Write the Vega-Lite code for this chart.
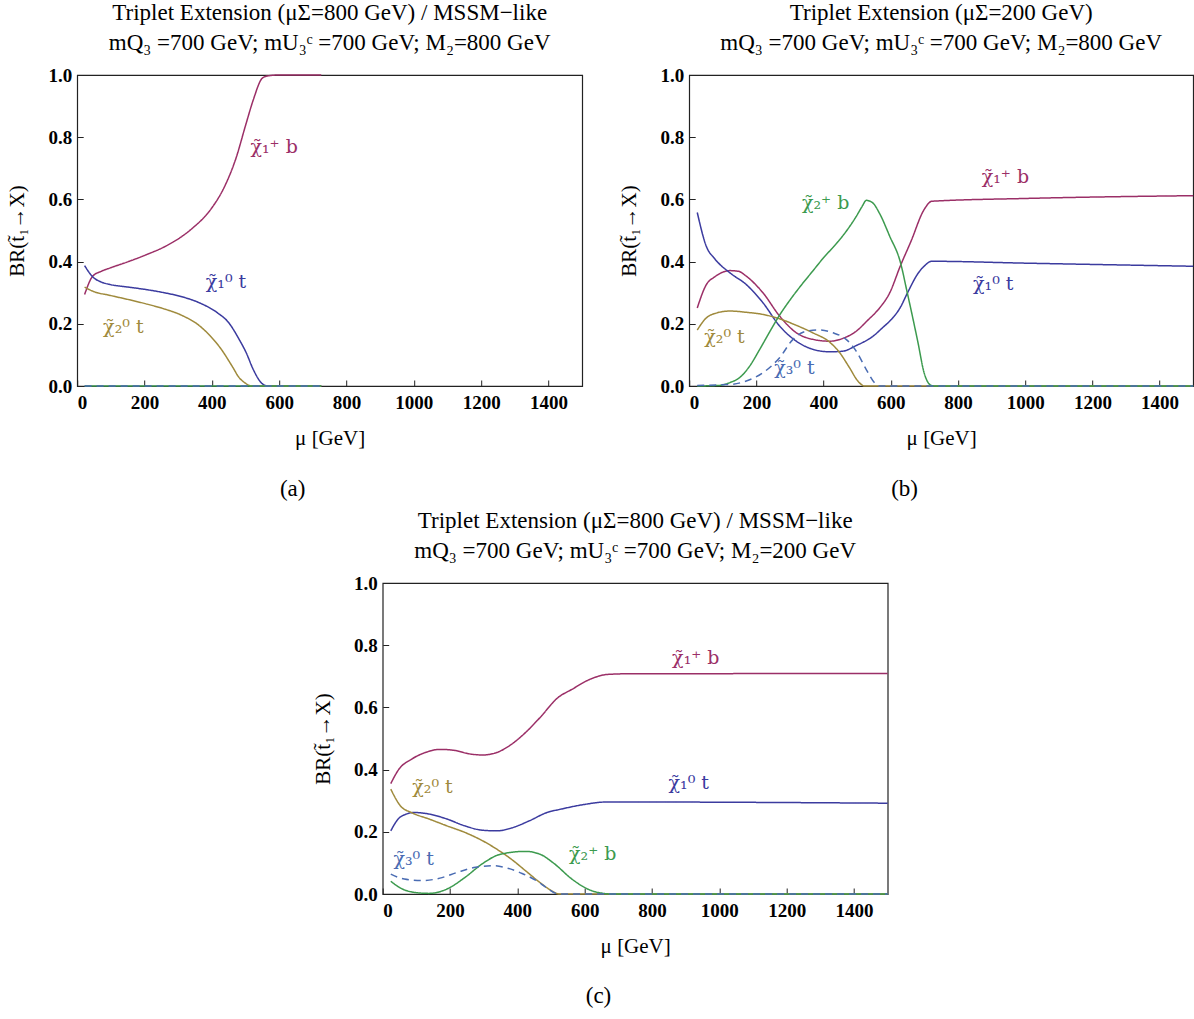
{
  "$schema": "https://vega.github.io/schema/vega-lite/v6.json",
  "background": "white",
  "padding": {"left": 6, "top": 0, "right": 0, "bottom": 5},
  "center": true,
  "spacing": 6,
  "config": {
    "view": {"stroke": "#222", "strokeWidth": 1.2},
    "axis": {"domain": false, "grid": false, "tickColor": "#222", "tickSize": -6, "tickWidth": 1,
      "labelFont": "Liberation Serif", "labelFontSize": 19, "labelFontWeight": "bold", "labelColor": "black",
      "titleFont": "Liberation Serif", "titleFontSize": 21, "titleFontWeight": "normal", "titleColor": "black"},
    "axisX": {"labelPadding": 13, "titlePadding": 15},
    "axisY": {"labelPadding": 11.5, "titlePadding": 20},
    "title": {"font": "Liberation Serif", "fontSize": 23, "fontWeight": "normal", "anchor": "middle", "lineHeight": 30, "offset": 11.5, "color": "black"},
    "text": {"font": "DejaVu Serif"}
  },
  "datasets": {
    "curves": [
      {"panel": "a", "series": "C1b", "mu": 22, "br": 0.294}, {"panel": "a", "series": "C1b", "mu": 46, "br": 0.353}, {"panel": "a", "series": "C1b", "mu": 72, "br": 0.369}, {"panel": "a", "series": "C1b", "mu": 99, "br": 0.38}, {"panel": "a", "series": "C1b", "mu": 152, "br": 0.4}, {"panel": "a", "series": "C1b", "mu": 205, "br": 0.422}, {"panel": "a", "series": "C1b", "mu": 258, "br": 0.447}, {"panel": "a", "series": "C1b", "mu": 311, "br": 0.481}, {"panel": "a", "series": "C1b", "mu": 343, "br": 0.508}, {"panel": "a", "series": "C1b", "mu": 396, "br": 0.567}, {"panel": "a", "series": "C1b", "mu": 438, "br": 0.642}, {"panel": "a", "series": "C1b", "mu": 470, "br": 0.727}, {"panel": "a", "series": "C1b", "mu": 502, "br": 0.845}, {"panel": "a", "series": "C1b", "mu": 523, "br": 0.92}, {"panel": "a", "series": "C1b", "mu": 550, "br": 0.99}, {"panel": "a", "series": "C1b", "mu": 566, "br": 0.997}, {"panel": "a", "series": "C1b", "mu": 600, "br": 1.0}, {"panel": "a", "series": "C1b", "mu": 725, "br": 1.0},
      {"panel": "a", "series": "N1t", "mu": 22, "br": 0.387}, {"panel": "a", "series": "N1t", "mu": 46, "br": 0.351}, {"panel": "a", "series": "N1t", "mu": 72, "br": 0.334}, {"panel": "a", "series": "N1t", "mu": 99, "br": 0.326}, {"panel": "a", "series": "N1t", "mu": 152, "br": 0.318}, {"panel": "a", "series": "N1t", "mu": 205, "br": 0.31}, {"panel": "a", "series": "N1t", "mu": 258, "br": 0.3}, {"panel": "a", "series": "N1t", "mu": 311, "br": 0.287}, {"panel": "a", "series": "N1t", "mu": 364, "br": 0.267}, {"panel": "a", "series": "N1t", "mu": 417, "br": 0.235}, {"panel": "a", "series": "N1t", "mu": 449, "br": 0.205}, {"panel": "a", "series": "N1t", "mu": 481, "br": 0.15}, {"panel": "a", "series": "N1t", "mu": 502, "br": 0.107}, {"panel": "a", "series": "N1t", "mu": 523, "br": 0.053}, {"panel": "a", "series": "N1t", "mu": 548, "br": 0.009}, {"panel": "a", "series": "N1t", "mu": 566, "br": 0}, {"panel": "a", "series": "N1t", "mu": 725, "br": 0},
      {"panel": "a", "series": "N2t", "mu": 22, "br": 0.318}, {"panel": "a", "series": "N2t", "mu": 46, "br": 0.305}, {"panel": "a", "series": "N2t", "mu": 99, "br": 0.291}, {"panel": "a", "series": "N2t", "mu": 152, "br": 0.278}, {"panel": "a", "series": "N2t", "mu": 205, "br": 0.264}, {"panel": "a", "series": "N2t", "mu": 258, "br": 0.248}, {"panel": "a", "series": "N2t", "mu": 311, "br": 0.227}, {"panel": "a", "series": "N2t", "mu": 364, "br": 0.193}, {"panel": "a", "series": "N2t", "mu": 396, "br": 0.16}, {"panel": "a", "series": "N2t", "mu": 428, "br": 0.118}, {"panel": "a", "series": "N2t", "mu": 460, "br": 0.064}, {"panel": "a", "series": "N2t", "mu": 481, "br": 0.027}, {"panel": "a", "series": "N2t", "mu": 497, "br": 0.011}, {"panel": "a", "series": "N2t", "mu": 518, "br": 0}, {"panel": "a", "series": "N2t", "mu": 725, "br": 0},
      {"panel": "a", "series": "C2b", "mu": 22, "br": 0}, {"panel": "a", "series": "C2b", "mu": 725, "br": 0},
      {"panel": "a", "series": "N3t", "mu": 22, "br": 0}, {"panel": "a", "series": "N3t", "mu": 725, "br": 0},

      {"panel": "b", "series": "C1b", "mu": 24, "br": 0.251}, {"panel": "b", "series": "C1b", "mu": 51, "br": 0.326}, {"panel": "b", "series": "C1b", "mu": 76, "br": 0.351}, {"panel": "b", "series": "C1b", "mu": 121, "br": 0.371}, {"panel": "b", "series": "C1b", "mu": 146, "br": 0.369}, {"panel": "b", "series": "C1b", "mu": 170, "br": 0.353}, {"panel": "b", "series": "C1b", "mu": 220, "br": 0.299}, {"panel": "b", "series": "C1b", "mu": 269, "br": 0.225}, {"panel": "b", "series": "C1b", "mu": 319, "br": 0.171}, {"panel": "b", "series": "C1b", "mu": 368, "br": 0.15}, {"panel": "b", "series": "C1b", "mu": 418, "br": 0.144}, {"panel": "b", "series": "C1b", "mu": 457, "br": 0.153}, {"panel": "b", "series": "C1b", "mu": 497, "br": 0.176}, {"panel": "b", "series": "C1b", "mu": 530, "br": 0.21}, {"panel": "b", "series": "C1b", "mu": 566, "br": 0.25}, {"panel": "b", "series": "C1b", "mu": 597, "br": 0.3}, {"panel": "b", "series": "C1b", "mu": 628, "br": 0.385}, {"panel": "b", "series": "C1b", "mu": 660, "br": 0.465}, {"panel": "b", "series": "C1b", "mu": 699, "br": 0.567}, {"panel": "b", "series": "C1b", "mu": 722, "br": 0.594}, {"panel": "b", "series": "C1b", "mu": 1000, "br": 0.603}, {"panel": "b", "series": "C1b", "mu": 1500, "br": 0.612},
      {"panel": "b", "series": "N1t", "mu": 24, "br": 0.558}, {"panel": "b", "series": "N1t", "mu": 51, "br": 0.449}, {"panel": "b", "series": "N1t", "mu": 76, "br": 0.409}, {"panel": "b", "series": "N1t", "mu": 121, "br": 0.364}, {"panel": "b", "series": "N1t", "mu": 170, "br": 0.326}, {"panel": "b", "series": "N1t", "mu": 220, "br": 0.267}, {"panel": "b", "series": "N1t", "mu": 269, "br": 0.193}, {"panel": "b", "series": "N1t", "mu": 319, "br": 0.144}, {"panel": "b", "series": "N1t", "mu": 368, "br": 0.118}, {"panel": "b", "series": "N1t", "mu": 418, "br": 0.11}, {"panel": "b", "series": "N1t", "mu": 457, "br": 0.112}, {"panel": "b", "series": "N1t", "mu": 497, "br": 0.13}, {"panel": "b", "series": "N1t", "mu": 547, "br": 0.16}, {"panel": "b", "series": "N1t", "mu": 576, "br": 0.188}, {"panel": "b", "series": "N1t", "mu": 605, "br": 0.218}, {"panel": "b", "series": "N1t", "mu": 628, "br": 0.252}, {"panel": "b", "series": "N1t", "mu": 649, "br": 0.298}, {"panel": "b", "series": "N1t", "mu": 681, "br": 0.362}, {"panel": "b", "series": "N1t", "mu": 699, "br": 0.385}, {"panel": "b", "series": "N1t", "mu": 722, "br": 0.401}, {"panel": "b", "series": "N1t", "mu": 1000, "br": 0.395}, {"panel": "b", "series": "N1t", "mu": 1500, "br": 0.385},
      {"panel": "b", "series": "N2t", "mu": 24, "br": 0.18}, {"panel": "b", "series": "N2t", "mu": 51, "br": 0.219}, {"panel": "b", "series": "N2t", "mu": 76, "br": 0.233}, {"panel": "b", "series": "N2t", "mu": 121, "br": 0.241}, {"panel": "b", "series": "N2t", "mu": 170, "br": 0.237}, {"panel": "b", "series": "N2t", "mu": 220, "br": 0.23}, {"panel": "b", "series": "N2t", "mu": 269, "br": 0.216}, {"panel": "b", "series": "N2t", "mu": 319, "br": 0.195}, {"panel": "b", "series": "N2t", "mu": 368, "br": 0.171}, {"panel": "b", "series": "N2t", "mu": 418, "br": 0.141}, {"panel": "b", "series": "N2t", "mu": 448, "br": 0.107}, {"panel": "b", "series": "N2t", "mu": 477, "br": 0.059}, {"panel": "b", "series": "N2t", "mu": 502, "br": 0.016}, {"panel": "b", "series": "N2t", "mu": 522, "br": 0}, {"panel": "b", "series": "N2t", "mu": 1500, "br": 0},
      {"panel": "b", "series": "C2b", "mu": 24, "br": 0}, {"panel": "b", "series": "C2b", "mu": 91, "br": 0.002}, {"panel": "b", "series": "C2b", "mu": 121, "br": 0.011}, {"panel": "b", "series": "C2b", "mu": 150, "br": 0.027}, {"panel": "b", "series": "C2b", "mu": 180, "br": 0.064}, {"panel": "b", "series": "C2b", "mu": 210, "br": 0.118}, {"panel": "b", "series": "C2b", "mu": 240, "br": 0.175}, {"panel": "b", "series": "C2b", "mu": 269, "br": 0.228}, {"panel": "b", "series": "C2b", "mu": 299, "br": 0.275}, {"panel": "b", "series": "C2b", "mu": 329, "br": 0.318}, {"panel": "b", "series": "C2b", "mu": 368, "br": 0.37}, {"panel": "b", "series": "C2b", "mu": 398, "br": 0.41}, {"panel": "b", "series": "C2b", "mu": 438, "br": 0.458}, {"panel": "b", "series": "C2b", "mu": 467, "br": 0.497}, {"panel": "b", "series": "C2b", "mu": 497, "br": 0.545}, {"panel": "b", "series": "C2b", "mu": 515, "br": 0.578}, {"panel": "b", "series": "C2b", "mu": 527, "br": 0.597}, {"panel": "b", "series": "C2b", "mu": 547, "br": 0.588}, {"panel": "b", "series": "C2b", "mu": 566, "br": 0.556}, {"panel": "b", "series": "C2b", "mu": 597, "br": 0.481}, {"panel": "b", "series": "C2b", "mu": 628, "br": 0.4}, {"panel": "b", "series": "C2b", "mu": 649, "br": 0.3}, {"panel": "b", "series": "C2b", "mu": 660, "br": 0.246}, {"panel": "b", "series": "C2b", "mu": 681, "br": 0.139}, {"panel": "b", "series": "C2b", "mu": 699, "br": 0.043}, {"panel": "b", "series": "C2b", "mu": 720, "br": 0.002}, {"panel": "b", "series": "C2b", "mu": 730, "br": 0}, {"panel": "b", "series": "C2b", "mu": 1500, "br": 0},
      {"panel": "b", "series": "N3t", "mu": 24, "br": 0.002}, {"panel": "b", "series": "N3t", "mu": 121, "br": 0.005}, {"panel": "b", "series": "N3t", "mu": 170, "br": 0.016}, {"panel": "b", "series": "N3t", "mu": 220, "br": 0.043}, {"panel": "b", "series": "N3t", "mu": 269, "br": 0.091}, {"panel": "b", "series": "N3t", "mu": 309, "br": 0.15}, {"panel": "b", "series": "N3t", "mu": 348, "br": 0.176}, {"panel": "b", "series": "N3t", "mu": 388, "br": 0.18}, {"panel": "b", "series": "N3t", "mu": 428, "br": 0.171}, {"panel": "b", "series": "N3t", "mu": 467, "br": 0.15}, {"panel": "b", "series": "N3t", "mu": 497, "br": 0.112}, {"panel": "b", "series": "N3t", "mu": 527, "br": 0.053}, {"panel": "b", "series": "N3t", "mu": 551, "br": 0.011}, {"panel": "b", "series": "N3t", "mu": 566, "br": 0}, {"panel": "b", "series": "N3t", "mu": 1500, "br": 0},

      {"panel": "c", "series": "C1b", "mu": 24, "br": 0.355}, {"panel": "c", "series": "C1b", "mu": 48, "br": 0.401}, {"panel": "c", "series": "C1b", "mu": 85, "br": 0.433}, {"panel": "c", "series": "C1b", "mu": 127, "br": 0.455}, {"panel": "c", "series": "C1b", "mu": 170, "br": 0.465}, {"panel": "c", "series": "C1b", "mu": 212, "br": 0.462}, {"panel": "c", "series": "C1b", "mu": 255, "br": 0.451}, {"panel": "c", "series": "C1b", "mu": 297, "br": 0.447}, {"panel": "c", "series": "C1b", "mu": 339, "br": 0.455}, {"panel": "c", "series": "C1b", "mu": 382, "br": 0.481}, {"panel": "c", "series": "C1b", "mu": 424, "br": 0.519}, {"panel": "c", "series": "C1b", "mu": 467, "br": 0.567}, {"panel": "c", "series": "C1b", "mu": 520, "br": 0.631}, {"panel": "c", "series": "C1b", "mu": 562, "br": 0.658}, {"panel": "c", "series": "C1b", "mu": 615, "br": 0.69}, {"panel": "c", "series": "C1b", "mu": 668, "br": 0.706}, {"panel": "c", "series": "C1b", "mu": 721, "br": 0.708}, {"panel": "c", "series": "C1b", "mu": 1500, "br": 0.709},
      {"panel": "c", "series": "N1t", "mu": 24, "br": 0.203}, {"panel": "c", "series": "N1t", "mu": 53, "br": 0.248}, {"panel": "c", "series": "N1t", "mu": 95, "br": 0.262}, {"panel": "c", "series": "N1t", "mu": 138, "br": 0.257}, {"panel": "c", "series": "N1t", "mu": 191, "br": 0.241}, {"panel": "c", "series": "N1t", "mu": 244, "br": 0.219}, {"panel": "c", "series": "N1t", "mu": 297, "br": 0.205}, {"panel": "c", "series": "N1t", "mu": 339, "br": 0.203}, {"panel": "c", "series": "N1t", "mu": 382, "br": 0.212}, {"panel": "c", "series": "N1t", "mu": 435, "br": 0.235}, {"panel": "c", "series": "N1t", "mu": 488, "br": 0.262}, {"panel": "c", "series": "N1t", "mu": 530, "br": 0.273}, {"panel": "c", "series": "N1t", "mu": 594, "br": 0.287}, {"panel": "c", "series": "N1t", "mu": 668, "br": 0.296}, {"panel": "c", "series": "N1t", "mu": 1500, "br": 0.292},
      {"panel": "c", "series": "N2t", "mu": 24, "br": 0.337}, {"panel": "c", "series": "N2t", "mu": 53, "br": 0.283}, {"panel": "c", "series": "N2t", "mu": 85, "br": 0.262}, {"panel": "c", "series": "N2t", "mu": 138, "br": 0.241}, {"panel": "c", "series": "N2t", "mu": 191, "br": 0.219}, {"panel": "c", "series": "N2t", "mu": 244, "br": 0.198}, {"panel": "c", "series": "N2t", "mu": 297, "br": 0.171}, {"panel": "c", "series": "N2t", "mu": 339, "br": 0.144}, {"panel": "c", "series": "N2t", "mu": 382, "br": 0.112}, {"panel": "c", "series": "N2t", "mu": 424, "br": 0.075}, {"panel": "c", "series": "N2t", "mu": 467, "br": 0.037}, {"panel": "c", "series": "N2t", "mu": 498, "br": 0.013}, {"panel": "c", "series": "N2t", "mu": 525, "br": 0}, {"panel": "c", "series": "N2t", "mu": 1500, "br": 0},
      {"panel": "c", "series": "C2b", "mu": 24, "br": 0.041}, {"panel": "c", "series": "C2b", "mu": 53, "br": 0.019}, {"panel": "c", "series": "C2b", "mu": 95, "br": 0.005}, {"panel": "c", "series": "C2b", "mu": 138, "br": 0.002}, {"panel": "c", "series": "C2b", "mu": 191, "br": 0.016}, {"panel": "c", "series": "C2b", "mu": 244, "br": 0.053}, {"panel": "c", "series": "C2b", "mu": 297, "br": 0.098}, {"panel": "c", "series": "C2b", "mu": 350, "br": 0.128}, {"panel": "c", "series": "C2b", "mu": 424, "br": 0.137}, {"panel": "c", "series": "C2b", "mu": 467, "br": 0.128}, {"panel": "c", "series": "C2b", "mu": 509, "br": 0.098}, {"panel": "c", "series": "C2b", "mu": 562, "br": 0.048}, {"panel": "c", "series": "C2b", "mu": 615, "br": 0.013}, {"panel": "c", "series": "C2b", "mu": 657, "br": 0.002}, {"panel": "c", "series": "C2b", "mu": 679, "br": 0}, {"panel": "c", "series": "C2b", "mu": 1500, "br": 0},
      {"panel": "c", "series": "N3t", "mu": 24, "br": 0.064}, {"panel": "c", "series": "N3t", "mu": 64, "br": 0.048}, {"panel": "c", "series": "N3t", "mu": 117, "br": 0.043}, {"panel": "c", "series": "N3t", "mu": 170, "br": 0.051}, {"panel": "c", "series": "N3t", "mu": 223, "br": 0.07}, {"panel": "c", "series": "N3t", "mu": 276, "br": 0.086}, {"panel": "c", "series": "N3t", "mu": 329, "br": 0.091}, {"panel": "c", "series": "N3t", "mu": 371, "br": 0.083}, {"panel": "c", "series": "N3t", "mu": 414, "br": 0.066}, {"panel": "c", "series": "N3t", "mu": 456, "br": 0.043}, {"panel": "c", "series": "N3t", "mu": 488, "br": 0.019}, {"panel": "c", "series": "N3t", "mu": 514, "br": 0.002}, {"panel": "c", "series": "N3t", "mu": 530, "br": 0}, {"panel": "c", "series": "N3t", "mu": 1500, "br": 0}
    ],
    "labels": [
      {"panel": "a", "series": "C1b", "text": "χ̃₁⁺ b", "mu": 585, "br": 0.77},
      {"panel": "a", "series": "N1t", "text": "χ̃₁⁰ t", "mu": 442, "br": 0.333},
      {"panel": "a", "series": "N2t", "text": "χ̃₂⁰ t", "mu": 137, "br": 0.19},
      {"panel": "b", "series": "C1b", "text": "χ̃₁⁺ b", "mu": 941, "br": 0.671},
      {"panel": "b", "series": "C2b", "text": "χ̃₂⁺ b", "mu": 406, "br": 0.59},
      {"panel": "b", "series": "N1t", "text": "χ̃₁⁰ t", "mu": 905, "br": 0.327},
      {"panel": "b", "series": "N2t", "text": "χ̃₂⁰ t", "mu": 105, "br": 0.156},
      {"panel": "b", "series": "N3t", "text": "χ̃₃⁰ t", "mu": 313, "br": 0.057},
      {"panel": "c", "series": "C1b", "text": "χ̃₁⁺ b", "mu": 930, "br": 0.76},
      {"panel": "c", "series": "N1t", "text": "χ̃₁⁰ t", "mu": 909, "br": 0.356},
      {"panel": "c", "series": "N2t", "text": "χ̃₂⁰ t", "mu": 148, "br": 0.343},
      {"panel": "c", "series": "C2b", "text": "χ̃₂⁺ b", "mu": 624, "br": 0.128},
      {"panel": "c", "series": "N3t", "text": "χ̃₃⁰ t", "mu": 92, "br": 0.112}
    ],
    "captions": [
      {"panel": "a", "text": "(a)", "mu": 640, "br": -0.332},
      {"panel": "b", "text": "(b)", "mu": 641, "br": -0.332},
      {"panel": "c", "text": "(c)", "mu": 641, "br": -0.329}
    ]
  },
  "vconcat": [
    {
      "hconcat": [
        {
          "width": 505, "height": 311,
          "title": {"text": ["Triplet Extension (μΣ=800 GeV) / MSSM−like", "mQ₃ =700 GeV; mU₃ᶜ =700 GeV; M₂=800 GeV"]},
          "layer": [
            {"data": {"name": "curves"}, "transform": [{"filter": "datum.panel === 'a'"}],
             "mark": {"type": "line", "strokeWidth": 1.5, "interpolate": "monotone"},
             "encoding": {
               "x": {"field": "mu", "type": "quantitative", "scale": {"domain": [0, 1500], "nice": false}, "axis": {"values": [0, 200, 400, 600, 800, 1000, 1200, 1400], "format": "d", "title": "μ [GeV]"}},
               "y": {"field": "br", "type": "quantitative", "scale": {"domain": [0, 1], "nice": false}, "axis": {"values": [0, 0.2, 0.4, 0.6, 0.8, 1.0], "format": ".1f", "title": "BR(t̃₁→X)"}},
               "color": {"field": "series", "type": "nominal", "scale": {"domain": ["C1b", "N1t", "N2t", "C2b", "N3t"], "range": ["#9b2f67", "#3b3b9f", "#9f8a3c", "#3c9a4e", "#4a6cb3"]}, "legend": null},
               "strokeDash": {"field": "series", "type": "nominal", "scale": {"domain": ["C1b", "N1t", "N2t", "C2b", "N3t"], "range": [[1, 0], [1, 0], [1, 0], [1, 0], [7, 5]]}, "legend": null}
             }},
            {"data": {"name": "labels"}, "transform": [{"filter": "datum.panel === 'a'"}],
             "mark": {"type": "text", "fontSize": 19, "align": "center", "baseline": "middle"},
             "encoding": {"x": {"field": "mu", "type": "quantitative"}, "y": {"field": "br", "type": "quantitative"}, "text": {"field": "text"}, "color": {"field": "series", "type": "nominal", "legend": null}}},
            {"data": {"name": "captions"}, "transform": [{"filter": "datum.panel === 'a'"}],
             "mark": {"type": "text", "font": "Liberation Serif", "fontSize": 23, "color": "black", "align": "center", "baseline": "middle"},
             "encoding": {"x": {"field": "mu", "type": "quantitative"}, "y": {"field": "br", "type": "quantitative"}, "text": {"field": "text"}}}
          ]
        },
        {
          "width": 504, "height": 311,
          "title": {"text": ["Triplet Extension (μΣ=200 GeV)", "mQ₃ =700 GeV; mU₃ᶜ =700 GeV; M₂=800 GeV"]},
          "layer": [
            {"data": {"name": "curves"}, "transform": [{"filter": "datum.panel === 'b'"}],
             "mark": {"type": "line", "strokeWidth": 1.5, "interpolate": "monotone"},
             "encoding": {
               "x": {"field": "mu", "type": "quantitative", "scale": {"domain": [0, 1500], "nice": false}, "axis": {"values": [0, 200, 400, 600, 800, 1000, 1200, 1400], "format": "d", "title": "μ [GeV]"}},
               "y": {"field": "br", "type": "quantitative", "scale": {"domain": [0, 1], "nice": false}, "axis": {"values": [0, 0.2, 0.4, 0.6, 0.8, 1.0], "format": ".1f", "title": "BR(t̃₁→X)"}},
               "color": {"field": "series", "type": "nominal", "scale": {"domain": ["C1b", "N1t", "N2t", "C2b", "N3t"], "range": ["#9b2f67", "#3b3b9f", "#9f8a3c", "#3c9a4e", "#4a6cb3"]}, "legend": null},
               "strokeDash": {"field": "series", "type": "nominal", "scale": {"domain": ["C1b", "N1t", "N2t", "C2b", "N3t"], "range": [[1, 0], [1, 0], [1, 0], [1, 0], [7, 5]]}, "legend": null}
             }},
            {"data": {"name": "labels"}, "transform": [{"filter": "datum.panel === 'b'"}],
             "mark": {"type": "text", "fontSize": 19, "align": "center", "baseline": "middle"},
             "encoding": {"x": {"field": "mu", "type": "quantitative"}, "y": {"field": "br", "type": "quantitative"}, "text": {"field": "text"}, "color": {"field": "series", "type": "nominal", "legend": null}}},
            {"data": {"name": "captions"}, "transform": [{"filter": "datum.panel === 'b'"}],
             "mark": {"type": "text", "font": "Liberation Serif", "fontSize": 23, "color": "black", "align": "center", "baseline": "middle"},
             "encoding": {"x": {"field": "mu", "type": "quantitative"}, "y": {"field": "br", "type": "quantitative"}, "text": {"field": "text"}}}
          ]
        }
      ],
      "spacing": 107,
      "bounds": "flush"
    },
    {
      "width": 505, "height": 311,
      "title": {"text": ["Triplet Extension (μΣ=800 GeV) / MSSM−like", "mQ₃ =700 GeV; mU₃ᶜ =700 GeV; M₂=200 GeV"]},
      "layer": [
        {"data": {"name": "curves"}, "transform": [{"filter": "datum.panel === 'c'"}],
         "mark": {"type": "line", "strokeWidth": 1.5, "interpolate": "monotone"},
         "encoding": {
           "x": {"field": "mu", "type": "quantitative", "scale": {"domain": [0, 1500], "nice": false}, "axis": {"values": [0, 200, 400, 600, 800, 1000, 1200, 1400], "format": "d", "title": "μ [GeV]"}},
           "y": {"field": "br", "type": "quantitative", "scale": {"domain": [0, 1], "nice": false}, "axis": {"values": [0, 0.2, 0.4, 0.6, 0.8, 1.0], "format": ".1f", "title": "BR(t̃₁→X)"}},
           "color": {"field": "series", "type": "nominal", "scale": {"domain": ["C1b", "N1t", "N2t", "C2b", "N3t"], "range": ["#9b2f67", "#3b3b9f", "#9f8a3c", "#3c9a4e", "#4a6cb3"]}, "legend": null},
           "strokeDash": {"field": "series", "type": "nominal", "scale": {"domain": ["C1b", "N1t", "N2t", "C2b", "N3t"], "range": [[1, 0], [1, 0], [1, 0], [1, 0], [7, 5]]}, "legend": null}
         }},
        {"data": {"name": "labels"}, "transform": [{"filter": "datum.panel === 'c'"}],
         "mark": {"type": "text", "fontSize": 19, "align": "center", "baseline": "middle"},
         "encoding": {"x": {"field": "mu", "type": "quantitative"}, "y": {"field": "br", "type": "quantitative"}, "text": {"field": "text"}, "color": {"field": "series", "type": "nominal", "legend": null}}},
        {"data": {"name": "captions"}, "transform": [{"filter": "datum.panel === 'c'"}],
         "mark": {"type": "text", "font": "Liberation Serif", "fontSize": 23, "color": "black", "align": "center", "baseline": "middle"},
         "encoding": {"x": {"field": "mu", "type": "quantitative"}, "y": {"field": "br", "type": "quantitative"}, "text": {"field": "text"}}}
      ]
    }
  ]
}
